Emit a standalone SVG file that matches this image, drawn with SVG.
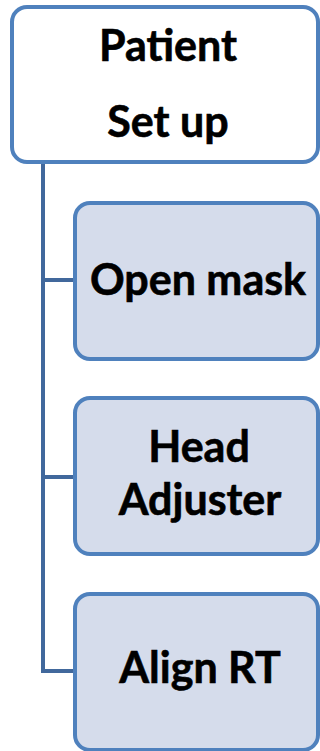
<svg xmlns="http://www.w3.org/2000/svg" width="320" height="751" viewBox="0 0 320 751">
<style>
.box{stroke:#4F81BD;stroke-width:4}
.root{fill:#FFFFFF}
.child{fill:#D5DCEB}
.lbl{font-family:Lato,"Liberation Sans",sans-serif;font-weight:bold;font-size:43px;fill:#000;text-anchor:middle;stroke:#000;stroke-width:0.6}
.conn{fill:none;stroke:#41689C;stroke-width:4}
</style>
<rect width="320" height="751" fill="#FFFFFF"/>
<g id="connectors">
<path class="conn" d="M43,162 V671 H75"/>
<path class="conn" d="M43,280 H75"/>
<path class="conn" d="M43,477 H75"/>
</g>
<g id="patient-setup">
<rect class="box root" x="12" y="7" width="306" height="155" rx="15"/>
<text class="lbl" x="168" y="61">Patient</text>
<text class="lbl" x="168" y="137">Set up</text>
</g>
<g id="open-mask">
<rect class="box child" x="75" y="203" width="243" height="156" rx="15"/>
<text class="lbl" x="198" y="295">Open mask</text>
</g>
<g id="head-adjuster">
<rect class="box child" x="75" y="398" width="243" height="156" rx="15"/>
<text class="lbl" x="199" y="462">Head</text>
<text class="lbl" x="200" y="515">Adjuster</text>
</g>
<g id="align-rt">
<rect class="box child" x="75" y="594" width="243" height="156" rx="15"/>
<text class="lbl" x="200" y="683">Align RT</text>
</g>
</svg>
